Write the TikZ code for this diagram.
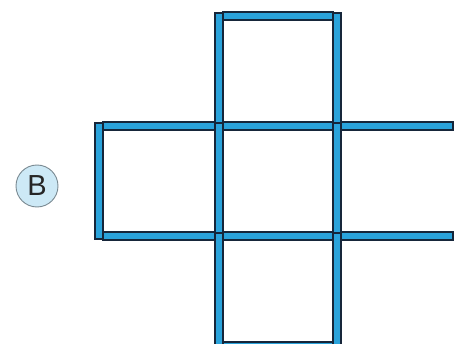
\documentclass[tikz,border=0pt]{standalone}
\usepackage{fontspec}
\setmainfont{Liberation Sans}
\definecolor{stickblue}{HTML}{2AA3DB}
\definecolor{stickedge}{HTML}{16263A}
\definecolor{circfill}{HTML}{CDE9F6}
\definecolor{circedge}{HTML}{7A8A92}
\begin{document}
\begin{tikzpicture}[x=1pt,y=-1pt,
  stick/.style={fill=stickblue,draw=stickedge,line width=1.1pt},
  badge/.style={circle,fill=circfill,draw=circedge,line width=0.9pt,minimum size=42pt,inner sep=0pt,font=\fontsize{29}{29}\selectfont,text=black!85}]
\useasboundingbox (0,0) rectangle (454,344);
% vertical sticks
\foreach \x/\ya/\yb in {219/16/126, 337/16/126, 99/126/236, 219/126/236, 337/126/236, 219/236/346, 337/236/346}{
  \draw[stick] (\x-4,\ya-3) rectangle (\x+4,\yb+3);
}
% horizontal sticks
\foreach \xa/\xb/\y in {219/337/16, 99/219/126, 219/337/126, 99/219/236, 219/337/236, 219/337/346}{
  \draw[stick] (\xa+4,\y-4) rectangle (\xb-4,\y+4);
}
\foreach \y in {126,236}{
  \draw[stick] (341,\y-4) rectangle (453,\y+4);
}
\node[badge] (b) at (37,186) {B};
\end{tikzpicture}
\end{document}
